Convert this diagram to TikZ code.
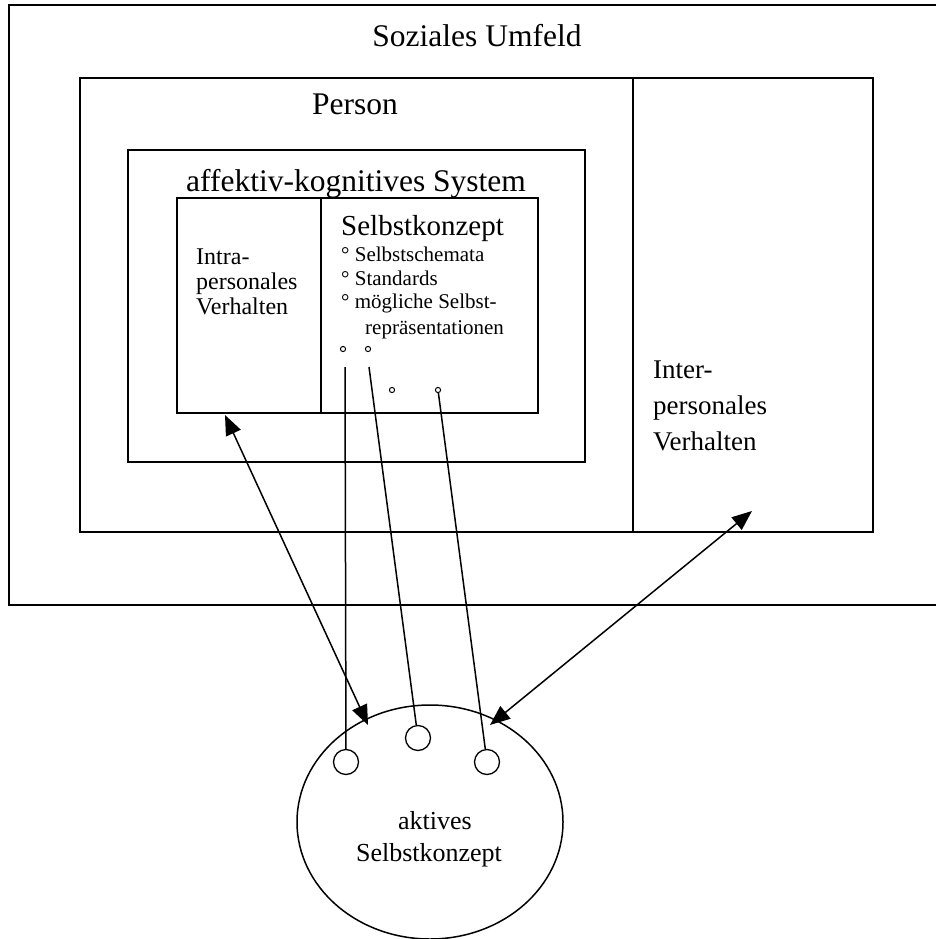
\documentclass[tikz,border=0pt]{standalone}
\usepackage{fontspec}
\setmainfont{Liberation Serif}
\usetikzlibrary{arrows.meta,shapes.geometric}
\begin{document}
\begin{tikzpicture}[x=1pt,y=-1pt,
  frame/.style={line width=1.6pt},
  lbl/.style={inner sep=0pt,anchor=base},
  lblw/.style={inner sep=0pt,anchor=base west},
  big/.style={font=\fontsize{31.5}{36}\selectfont},
  interf/.style={font=\fontsize{27}{32}\selectfont},
  intraf/.style={font=\fontsize{24}{28}\selectfont},
  listf/.style={font=\fontsize{21}{24}\selectfont},
  aktf/.style={font=\fontsize{26}{30}\selectfont},
  dot/.style={circle,draw,line width=1pt,inner sep=0pt,minimum size=5.2pt},
  port/.style={circle,draw,line width=1.3pt,inner sep=0pt,minimum size=25pt},
  conn/.style={line width=1.5pt},
  biarrow/.style={line width=1.5pt,{Triangle[length=20pt,width=16pt]}-{Triangle[length=20pt,width=16pt]}}]
\useasboundingbox (0,0) rectangle (935,939);
\fill[white] (0,0) rectangle (935,939);
% Soziales Umfeld (open to the right)
\draw[frame] (936,5) -- (9,5) -- (9,605) -- (936,605);
\node[lbl,big] (soz) at (477,47) {Soziales Umfeld};
% Person box with right compartment
\draw[frame] (80,78) rectangle (873,532);
\draw[frame] (633,78) -- (633,532);
\node[lbl,big] (person) at (355,115) {Person};
\node[lblw,interf] (inter1) at (653,378) {Inter-};
\node[lblw,interf] (inter2) at (653,414) {personales};
\node[lblw,interf] (inter3) at (653,450) {Verhalten};
% affektiv-kognitives System
\draw[frame] (128,150) rectangle (585,462);
\node[lbl,big] (aks) at (356,191) {affektiv-kognitives System};
% inner box
\draw[frame] (177,198) rectangle (538,413);
\draw[frame] (321,198) -- (321,413);
\node[lblw,intraf] (intra1) at (196,264) {Intra-};
\node[lblw,intraf] (intra2) at (196,289) {personales};
\node[lblw,intraf] (intra3) at (196,314) {Verhalten};
\node[lblw,font=\fontsize{29}{32}\selectfont] (sk) at (341,235) {Selbstkonzept};
\node[lblw,listf] (li1) at (341,261) {° Selbstschemata};
\node[lblw,listf] (li2) at (341,285) {° Standards};
\node[lblw,listf] (li3) at (341,308) {° mögliche Selbst-};
\node[lblw,listf] (li4) at (365,334) {repräsentationen};
% small dots
\node[dot] (d1) at (343,349) {};
\node[dot] (d2) at (368,349) {};
\node[dot] (d3) at (392,390) {};
\node[dot] (d4) at (438,390) {};
\coordinate (s1) at (345,367);
\coordinate (s2) at (369,367);
% aktives Selbstkonzept
\node[ellipse,draw,line width=1.5pt,minimum width=266pt,minimum height=234pt,inner sep=0pt] (akt) at (430,822) {};
\node[lbl,aktf] (akt1) at (435,829) {aktives};
\node[lbl,aktf] (akt2) at (429,861) {Selbstkonzept};
\node[port] (c1) at (346,762) {};
\node[port] (c2) at (418,738) {};
\node[port] (c3) at (487,762) {};
% connectors
\draw[conn] (s1) -- (c1);
\draw[conn] (s2) -- (c2);
\draw[conn] (d4) -- (c3);
\coordinate (a1s) at (225,415);
\coordinate (a1e) at (368,725);
\coordinate (a2s) at (752,511);
\coordinate (a2e) at (490,725);
\draw[biarrow] (a1s) -- (a1e);
\draw[biarrow] (a2s) -- (a2e);
\end{tikzpicture}
\end{document}
